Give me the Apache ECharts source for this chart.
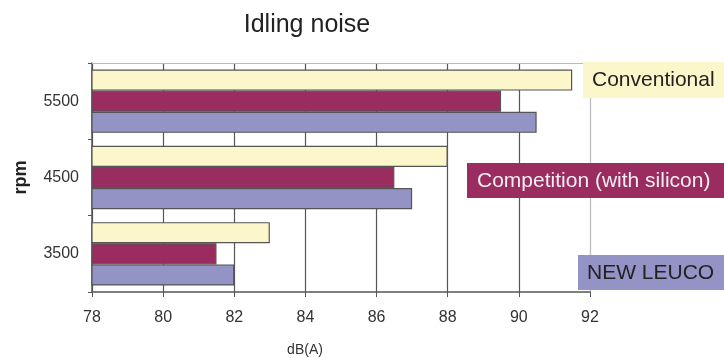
<!DOCTYPE html>
<html><head><meta charset="utf-8">
<script src="https://cdn.jsdelivr.net/npm/echarts@6/dist/echarts.min.js"></script>
<style>html,body{margin:0;padding:0;background:#fff}#c{width:724px;height:358px}</style>
</head><body><div id="c"></div>
<script>
const categories = ['3500', '4500', '5500'];
const seriesNames = ['Conventional', 'Competition (with silicon)', 'NEW LEUCO'];
const conventional = [83, 88, 91.5];
const competition = [81.5, 86.5, 89.5];
const newLeuco = [82, 87, 90.5];
const xTicks = [78, 80, 82, 84, 86, 88, 90, 92];

const colors = ['#FCF6CB', '#9A2C60', '#9393C6'];
const values = [conventional, competition, newLeuco];
const font = 'Liberation Sans, Arial, sans-serif';

const chart = echarts.init(document.getElementById('c'));
const series = values.map((v, i) => ({
  name: seriesNames[i], type: 'bar', data: v,
  barGap: '0%', barCategoryGap: '17%',
  itemStyle: { color: colors[i], borderColor: '#555', borderWidth: 1.2 },
  z: 3
}));

chart.setOption({
  animation: false,
  backgroundColor: '#fff',
  title: { text: 'Idling noise', left: 302, top: 8, textAlign: 'center',
    textStyle: { fontFamily: font, fontSize: 25, fontWeight: 'normal', color: '#222' } },
  grid: { left: 92, right: 134, top: 63, bottom: 66, containLabel: false, outerBoundsMode: 'none' },
  xAxis: {
    type: 'value', min: xTicks[0], max: xTicks[xTicks.length - 1], interval: 2,
    name: 'dB(A)', nameLocation: 'middle', nameGap: 51,
    nameTextStyle: { fontFamily: font, fontSize: 14, color: '#333', padding: [0, 72, 0, 0] },
    axisLine: { show: true, lineStyle: { color: '#555', width: 1.5 } },
    axisTick: { show: true, length: 5, lineStyle: { color: '#555' } },
    axisLabel: { fontFamily: font, fontSize: 16, color: '#333', margin: 18 },
    splitLine: { show: true, lineStyle: { color: ['#555','#555','#555','#555','#555','#555','#555','#bbb'], width: 1.2 } }
  },
  yAxis: {
    type: 'category', data: categories,
    name: 'rpm', nameLocation: 'middle', nameGap: 62, nameRotate: 90,
    nameTextStyle: { fontFamily: font, fontSize: 18, fontWeight: 'bold', color: '#222' },
    axisLine: { show: true, lineStyle: { color: '#555', width: 1.5 } },
    axisTick: { show: true, length: 4, lineStyle: { color: '#555' } },
    axisLabel: { fontFamily: font, fontSize: 16, color: '#333', margin: 13 },
    splitLine: { show: false }
  },
  series: series,
  graphic: [
    { type: 'line', shape: { x1: 92, y1: 63.5, x2: 590, y2: 63.5 }, style: { stroke: '#bbb', lineWidth: 1 }, z: 1 },
    { type: 'group', left: 583, top: 62, z: 100, children: [
      { type: 'rect', z: 100, shape: { x: 0, y: 0, width: 141, height: 36 }, style: { fill: colors[0] } },
      { type: 'text', z: 101, x: 9, y: 18, style: { text: seriesNames[0], fill: '#222', font: '21px ' + font, textVerticalAlign: 'middle' } }
    ]},
    { type: 'group', left: 467, top: 163, z: 100, children: [
      { type: 'rect', z: 100, shape: { x: 0, y: 0, width: 257, height: 35 }, style: { fill: colors[1] } },
      { type: 'text', z: 101, x: 10, y: 18, style: { text: seriesNames[1], fill: '#f4eef0', font: '21px ' + font, textVerticalAlign: 'middle' } }
    ]},
    { type: 'group', left: 578, top: 255, z: 100, children: [
      { type: 'rect', z: 100, shape: { x: 0, y: 0, width: 146, height: 35 }, style: { fill: colors[2] } },
      { type: 'text', z: 101, x: 9, y: 18, style: { text: seriesNames[2], fill: '#222', font: '21px ' + font, textVerticalAlign: 'middle' } }
    ]}
  ]
});
</script></body></html>
